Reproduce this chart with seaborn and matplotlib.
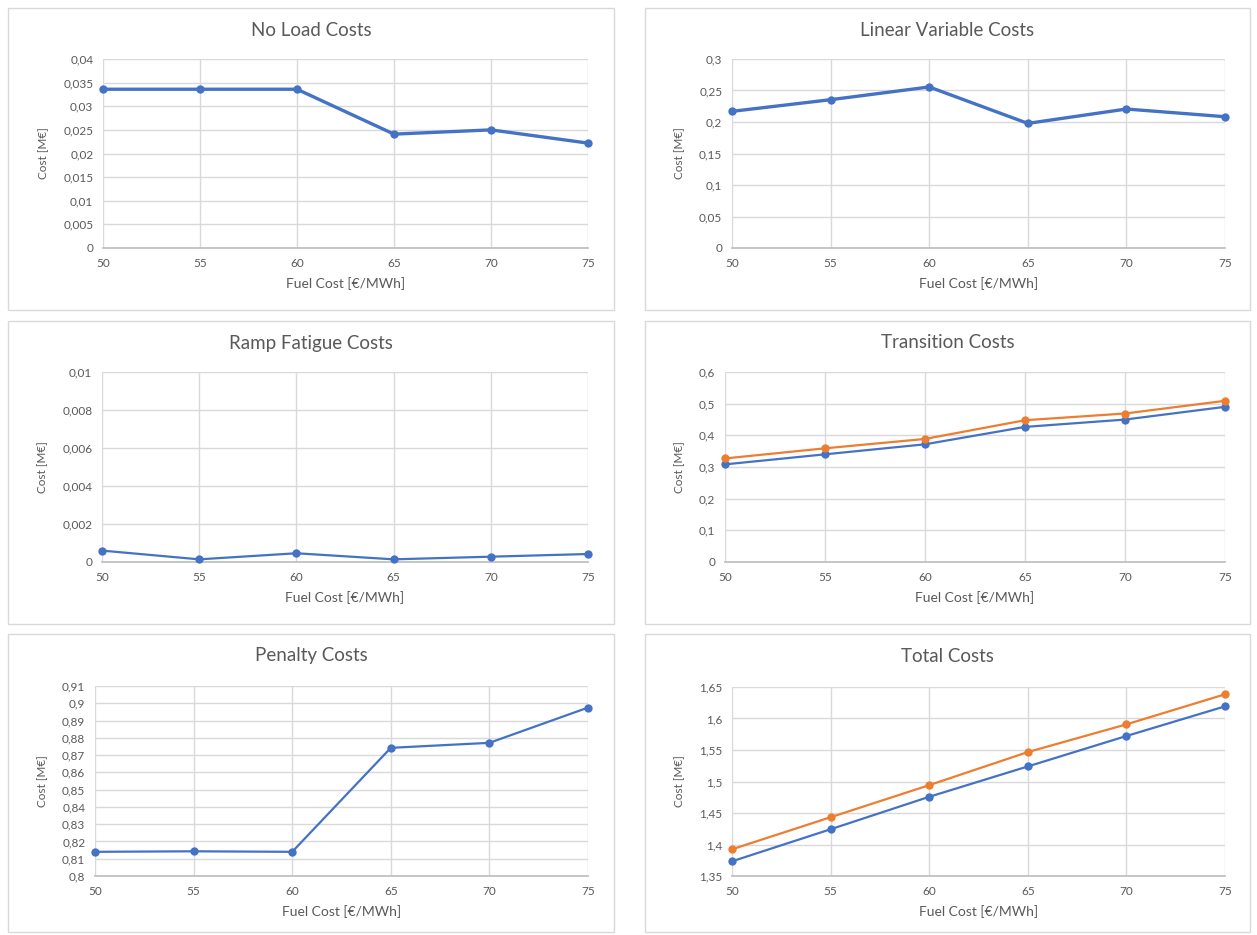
import matplotlib
matplotlib.use("Agg")
import matplotlib.pyplot as plt
from matplotlib.patches import Rectangle
from matplotlib.ticker import FuncFormatter, MultipleLocator
import seaborn as sns
import pandas as pd

# fuel cost on the x axis
fuel_cost = [50, 55, 60, 65, 70, 75]

no_load = [0.0336, 0.0336, 0.0336, 0.0241, 0.0250, 0.0222]
linear_var = [0.2169, 0.2354, 0.2556, 0.1978, 0.2206, 0.2084]
ramp_fatigue = [0.0006, 0.00014, 0.00046, 0.00014, 0.00028, 0.00042]
transition_a = [0.3083, 0.3400, 0.3717, 0.4266, 0.4498, 0.4900]
transition_b = [0.3270, 0.3590, 0.3886, 0.4477, 0.4689, 0.5090]
penalty = [0.8140, 0.8143, 0.8140, 0.8742, 0.8771, 0.8975]
total_a = [1.3733, 1.4242, 1.4757, 1.5239, 1.5722, 1.6193]
total_b = [1.3924, 1.4433, 1.4942, 1.5467, 1.5907, 1.6384]

BLUE = "#4472C4"
ORANGE = "#ED7D31"
GRID = "#D9D9D9"
TEXT = "#595959"

W, H = 1257, 935

sns.set_theme(style="white")
plt.rcParams["font.family"] = ["Lato", "DejaVu Sans"]

fig = plt.figure(figsize=(W / 100, H / 100), dpi=100)


def px_axes(x0, y0, x1, y1):
    return fig.add_axes([x0 / W, 1 - y1 / H, (x1 - x0) / W, (y1 - y0) / H])


def comma_fmt(decimals):
    def f(v, pos):
        s = f"{v:.{decimals}f}".rstrip("0").rstrip(".")
        return s.replace(".", ",")
    return FuncFormatter(f)


# panel boxes (pixel coords) and plot areas
panels = [
    dict(title="No Load Costs", box=(8, 8, 614, 310), area=(103, 59, 588, 248),
         series=[no_load], ylim=(0, 0.04), step=0.005, dec=3, lw=2.4),
    dict(title="Linear Variable Costs", box=(645, 8, 1250, 310), area=(732, 59, 1225, 248),
         series=[linear_var], ylim=(0, 0.3), step=0.05, dec=2, lw=2.4),
    dict(title="Ramp Fatigue Costs", box=(8, 321, 614, 624), area=(102, 372, 588, 562),
         series=[ramp_fatigue], ylim=(0, 0.01), step=0.002, dec=3, lw=1.6),
    dict(title="Transition Costs", box=(645, 321, 1250, 624), area=(725, 372, 1225, 562),
         series=[transition_a, transition_b], ylim=(0, 0.6), step=0.1, dec=1, lw=1.6),
    dict(title="Penalty Costs", box=(8, 634, 614, 932), area=(95, 686, 588, 876),
         series=[penalty], ylim=(0.8, 0.91), step=0.01, dec=2, lw=1.6),
    dict(title="Total Costs", box=(645, 634, 1250, 932), area=(732, 687, 1225, 876),
         series=[total_a, total_b], ylim=(1.35, 1.65), step=0.05, dec=2, lw=1.6),
]

for p in panels:
    bx0, by0, bx1, by1 = p["box"]
    fig.patches.append(Rectangle((bx0 / W, 1 - by1 / H), (bx1 - bx0) / W, (by1 - by0) / H,
                                 transform=fig.transFigure, fill=False,
                                 edgecolor="#D9D9D9", linewidth=1.0))
    fig.text((bx0 + bx1) / 2 / W, 1 - (by0 + 22) / H, p["title"], ha="center", va="center",
             fontsize=13.5, color=TEXT)

    ax = px_axes(*p["area"])
    colors = [BLUE, ORANGE]
    for i, vals in enumerate(p["series"]):
        df = pd.DataFrame({"fuel": fuel_cost, "cost": vals})
        sns.lineplot(data=df, x="fuel", y="cost", ax=ax, color=colors[i], linewidth=p["lw"],
                     marker="o", markersize=6, markeredgewidth=0, clip_on=False, zorder=3)
    ax.set_xlim(50, 75)
    ax.set_ylim(*p["ylim"])
    ax.xaxis.set_major_locator(MultipleLocator(5))
    ax.yaxis.set_major_locator(MultipleLocator(p["step"]))
    ax.yaxis.set_major_formatter(comma_fmt(p["dec"]))
    ax.grid(True, color=GRID, linewidth=1.0)
    ax.set_axisbelow(True)
    for s in ["top", "right", "left"]:
        ax.spines[s].set_visible(False)
    ax.spines["bottom"].set_color("#BFBFBF")
    ax.tick_params(axis="both", length=0, labelsize=8.5, colors=TEXT, pad=7)
    ax.set_xlabel("Fuel Cost [€/MWh]", fontsize=10, color=TEXT, labelpad=6)
    ax.set_ylabel("Cost [M€]", fontsize=8.5, color=TEXT, labelpad=10)
    ax.set_facecolor("white")

fig.savefig("out.png", dpi=100, facecolor="white")
